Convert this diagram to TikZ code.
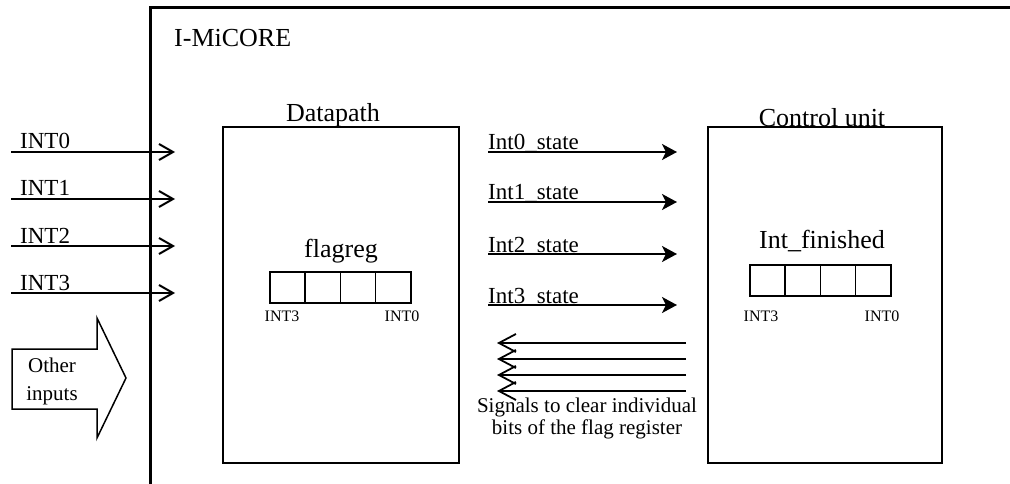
\documentclass[tikz,border=0pt]{standalone}
\usepackage{fontspec}
\setmainfont{Liberation Serif}
\usetikzlibrary{arrows.meta}

\tikzset{
  title/.style={font=\fontsize{26}{28}\selectfont, inner sep=0pt},
  siglabel/.style={font=\fontsize{23}{25}\selectfont, inner sep=0pt, anchor=base west},
  note/.style={font=\fontsize{21}{24}\selectfont, inner sep=0pt, anchor=base},
  bitlabel/.style={font=\fontsize{16}{18}\selectfont, inner sep=0pt, anchor=base},
  unitbox/.style={draw, line width=2pt, inner sep=0pt, minimum width=236pt, minimum height=336pt},
  cell/.style={draw, line width=1.6pt, inner sep=0pt, minimum width=35.25pt, minimum height=31pt},
  inarrow/.style={line width=2pt, -{Straight Barb[length=14pt,width=16pt,line width=2pt]}},
  statearrow/.style={line width=2pt, -{Stealth[length=15pt,width=16pt,inset=4pt]}},
  cleararrow/.style={line width=1.8pt, -{Straight Barb[length=17pt,width=18pt,line width=1.8pt]}},
}

\begin{document}
\begin{tikzpicture}[x=1pt,y=-1pt]
  \useasboundingbox (0,0) rectangle (1010,484);
  \clip (0,0) rectangle (1010,484);

  % outer I-MiCORE boundary
  \draw[line width=3pt] (150,500) -- (150,8) -- (1030,8);
  \node[title, anchor=base west] (core) at (174,47) {I-MiCORE};

  % external interrupt lines
  \foreach \i/\y in {0/152,1/199,2/246,3/293}{
    \coordinate (in\i s) at (11,\y);
    \coordinate (in\i e) at (175,\y);
    \draw[inarrow] (in\i s) -- (in\i e);
    \node[siglabel] (inl\i) at (20,\y-3) {INT\i};
  }

  % other inputs block arrow
  \draw[line width=1.5pt, line join=miter]
    (12,349) -- (97,349) -- (97,318) -- (126,378) -- (97,438) -- (97,409) -- (12,409) -- cycle;
  \node[note] (oth1) at (52,372) {Other};
  \node[note] (oth2) at (52,400) {inputs};

  % datapath
  \node[unitbox] (dp) at (341,295) {};
  \node[title, anchor=base] (dpt) at (333,122) {Datapath};
  \node[title, anchor=base] (fr) at (341,257) {flagreg};
  \foreach \k in {0,1,2,3}{
    \node[cell, anchor=north west] (f\k) at (269+35.25*\k,271) {};
  }
  \node[bitlabel] (fl3) at (282,321) {INT3};
  \node[bitlabel] (fl0) at (402,321) {INT0};

  % control unit
  \node[unitbox, minimum width=234pt] (cu) at (825,295) {};
  \node[title, anchor=base] (cut) at (822,127) {Control unit};
  \node[title, anchor=base] (fin) at (822,248) {Int\_finished};
  \foreach \k in {0,1,2,3}{
    \node[cell, anchor=north west] (c\k) at (749+35.25*\k,264) {};
  }
  \node[bitlabel] (cl3) at (761,321) {INT3};
  \node[bitlabel] (cl0) at (882,321) {INT0};

  % interrupt state signals to the control unit
  \foreach \i/\y in {0/152,1/202,2/254,3/305}{
    \coordinate (st\i s) at (488,\y);
    \coordinate (st\i e) at (677,\y);
    \draw[statearrow] (st\i s) -- (st\i e);
    \node[siglabel] (stl\i) at (488,\y-2) {Int\i\_state};
  }

  % clear signals back to the flag register
  \foreach \i/\y in {0/343,1/359,2/375,3/391}{
    \coordinate (cl\i s) at (686,\y);
    \coordinate (cl\i e) at (497,\y);
    \draw[cleararrow] (cl\i s) -- (cl\i e);
  }
  \node[note] (sig1) at (587,412) {Signals to clear individual};
  \node[note] (sig2) at (587,434) {bits of the flag register};
\end{tikzpicture}
\end{document}
